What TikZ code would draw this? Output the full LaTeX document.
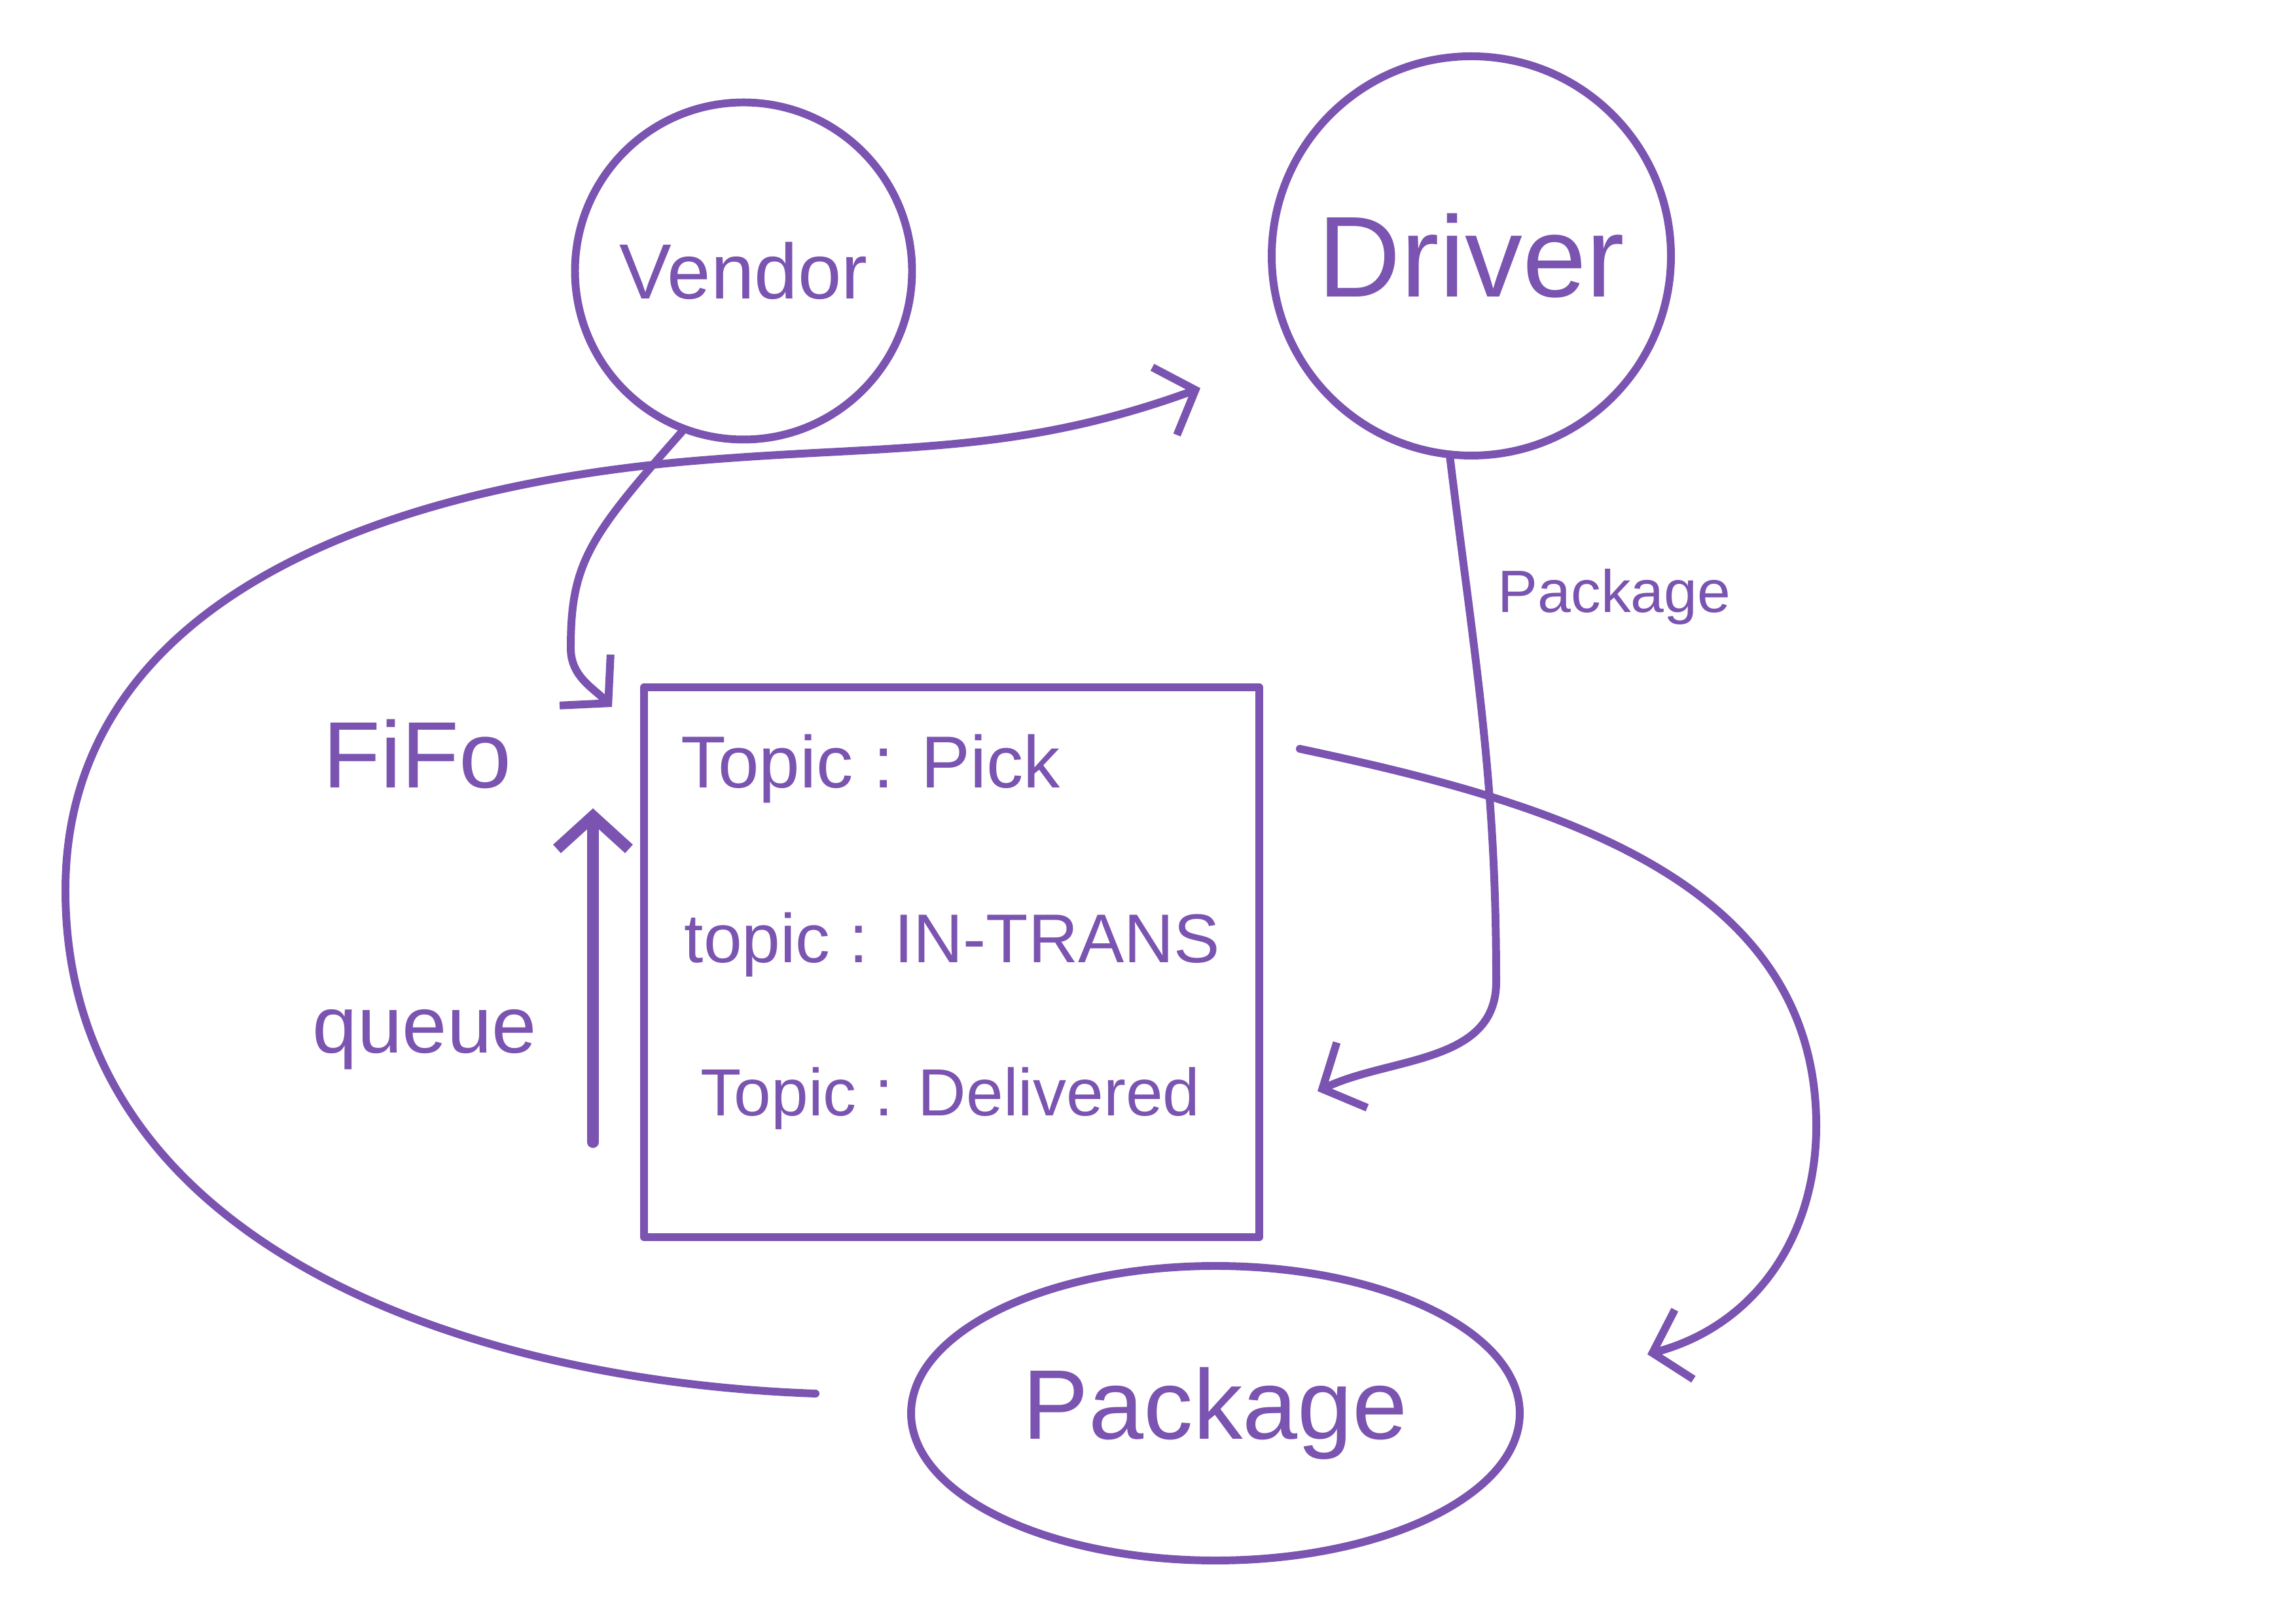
\documentclass[tikz,border=0pt]{standalone}
\usepackage{fontspec}
\setmainfont{Liberation Sans}
\usetikzlibrary{arrows.meta,shapes.geometric,positioning}
\definecolor{pen}{RGB}{122,84,176}
\tikzset{
  penline/.style={draw=pen, line width=3.4pt, line cap=round, line join=round},
  flow/.style={penline, -{Straight Barb[length=0.5cm,width=1.1cm]}},
  actor/.style={circle, penline, text=pen, inner sep=0pt},
  scribble/.style={text=pen, inner sep=0pt},
}
\newcommand{\fs}[1]{\fontsize{#1}{#1}\selectfont}

\begin{document}
\begin{tikzpicture}
		\useasboundingbox (0,0) rectangle (35.08,24.8);
		
		%Actors
		\node[actor, minimum size=5.15cm, font=\fs{34}] (vendor) at (11.36,20.66) {Vendor};
		\node[actor, minimum size=6.1cm, font=\fs{50}] (driver) at (22.48,20.89) {Driver};
		\node[actor, ellipse, minimum width=9.3cm, minimum height=4.5cm, font=\fs{43}] (package) at (18.57,3.21) {Package};
		
		%Topics
		\node[penline, rectangle, minimum width=9.4cm, minimum height=8.4cm] (topics) at (14.54,10.1) {};
		\node[scribble, anchor=west, font=\fs{32}] (pick) at (10.4,13.06) {Topic : Pick};
		\node[scribble, anchor=west, font=\fs{30}] (trans) at (10.45,10.37) {topic : IN-TRANS};
		\node[scribble, anchor=west, font=\fs{29}] (delivered) at (10.7,8.02) {Topic : Delivered};
		
		%Queue
		\node[scribble, font=\fs{41}] (fifo) at (6.38,13.28) {FiFo};
		\node[scribble, font=\fs{35}] (queue) at (6.49,8.92) {queue};
		\coordinate (qbot) at (9.06,7.35);
		\coordinate (qtop) at (9.06,12.45);
		\draw[flow, line width=5pt] (qbot) -- (qtop);
		
		%Ends
		\coordinate (vtip) at (9.35,14.0);
		\coordinate (dtip) at (20.13,8.13);
		\coordinate (ptip) at (25.17,4.11);
		\coordinate (drvin) at (18.34,18.87);
		
		%Flows
		\draw[flow] (vendor.249) .. controls (9.0,16.6) and (8.72,16.2) .. (8.72,14.9) to[out=-90,in=135] (vtip);
		\draw[flow] (driver.264) to[out=-83,in=90] node[pos=0.25, scribble, anchor=west, xshift=0.4cm, font=\fs{26}] (pkglabel) {Package} (22.86,9.8) to[out=-90,in=25] (dtip);
		\draw[flow] ([xshift=0.56cm,yshift=-1cm]topics.north east) to[out=-12,in=90] (27.75,7.6) to[out=-90,in=15] (ptip);
		\draw[flow] ([xshift=-1.4cm,yshift=0.3cm]package.west) to[out=178,in=-90] (1.0,11.2) to[out=90,in=185] (10.5,17.75) to[out=5,in=200] (drvin);
		
\end{tikzpicture}
\end{document}
